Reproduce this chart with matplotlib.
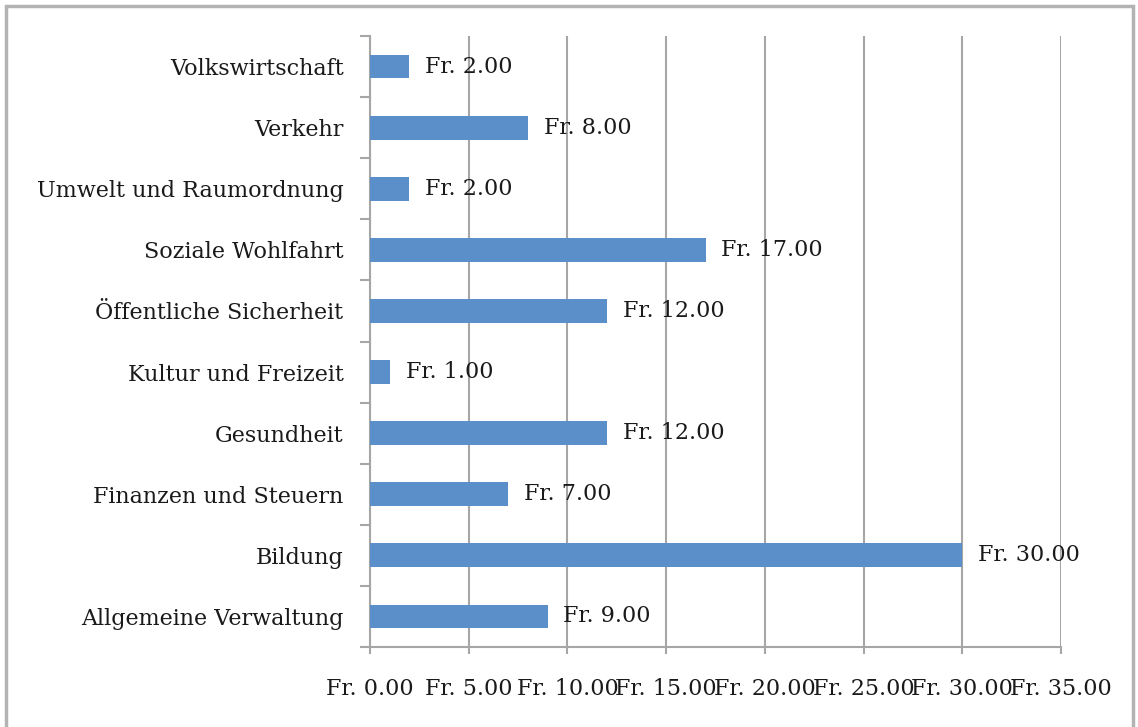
import matplotlib.pyplot as plt
from matplotlib.patches import Rectangle

# categories from bottom to top, values in Fr.
categories = ["Allgemeine Verwaltung", "Bildung", "Finanzen und Steuern", "Gesundheit",
              "Kultur und Freizeit", "Öffentliche Sicherheit", "Soziale Wohlfahrt",
              "Umwelt und Raumordnung", "Verkehr", "Volkswirtschaft"]
values = [9, 30, 7, 12, 1, 12, 17, 2, 8, 2]
ticks = [0, 5, 10, 15, 20, 25, 30, 35]

plt.rcParams['font.family'] = ['DejaVu Serif']

fig = plt.figure(figsize=(11.38, 7.27), dpi=100)
W, H = 1138, 727
# plot area in pixels: x 370..1061, y 36..647
ax = fig.add_axes([370 / W, 1 - 647 / H, (1061 - 370) / W, (647 - 36) / H])

gray = '#a6a6a6'
txt = '#1a1a1a'
fs = 16
ypos = list(range(len(categories)))
ax.barh(ypos, values, height=0.39, color='#5b8fc9', zorder=3)

for y, v in zip(ypos, values):
    ax.text(v + 0.8, y, "Fr. %.2f" % v, va='center', ha='left', fontsize=fs,
            color=txt, zorder=4)

ax.set_xlim(0, 35)
ax.set_ylim(-0.5, len(categories) - 0.5)
ax.set_xticks(ticks)
ax.set_xticklabels(["Fr. %.2f" % t for t in ticks], fontsize=fs, color=txt)
ax.set_yticks(ypos)
ax.set_yticklabels(categories, fontsize=fs, color=txt)
ax.tick_params(axis='y', length=0, pad=19)
ax.tick_params(axis='x', length=5, width=1.5, color=gray, pad=17)

# y ticks at category boundaries
ax.set_yticks([i - 0.5 for i in range(len(categories) + 1)], minor=True)
ax.tick_params(axis='y', which='minor', length=7, width=1.5, color=gray)

ax.grid(axis='x', color=gray, linewidth=1.5, zorder=0)
for s in ['top', 'right']:
    ax.spines[s].set_visible(False)
for s in ['left', 'bottom']:
    ax.spines[s].set_color(gray)
    ax.spines[s].set_linewidth(1.5)

# outer frame
fig.patches.append(Rectangle((6 / W, -0.01), (1133 - 6) / W, 1 - 6 / H + 0.01,
                             transform=fig.transFigure, fill=False,
                             edgecolor='#b3b3b3', linewidth=2.5))

fig.savefig('out.png', dpi=100)
